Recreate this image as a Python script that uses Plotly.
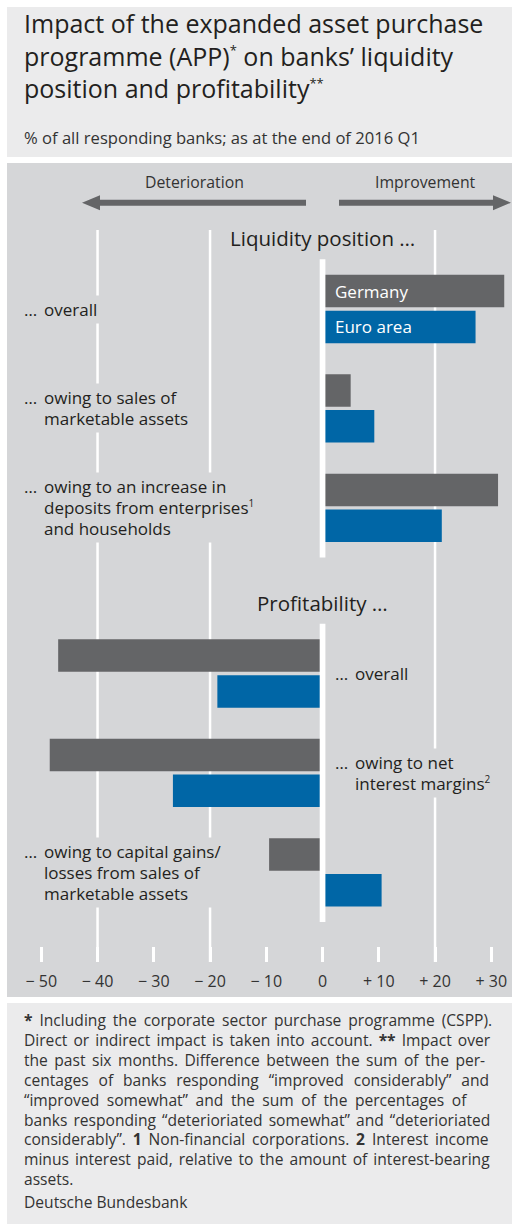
import plotly.graph_objects as go

# ---------------- data ----------------
liquidity_items = [
    ["… overall"],
    ["… owing to sales of", "marketable assets"],
    ["… owing to an increase in", "deposits from enterprises{sup1}", "and households"],
]
profitability_items = [
    ["… overall"],
    ["… owing to net", "interest margins{sup2}"],
    ["… owing to capital gains/", "losses from sales of", "marketable assets"],
]
# which side of the zero line each profitability label sits on
profitability_label_side = ["right", "right", "left"]

liquidity_germany = [32.3, 5.0, 31.2]
liquidity_euro_area = [27.2, 9.2, 21.2]
profitability_germany = [-47.0, -48.5, -9.5]
profitability_euro_area = [-18.7, -26.6, 10.5]

tick_values = [-50, -40, -30, -20, -10, 0, 10, 20, 30]
tick_labels = ["\u2212 50", "\u2212 40", "\u2212 30", "\u2212 20", "\u2212 10",
               "0", "+ 10", "+ 20", "+ 30"]
grid_values = [-40, -20, 20]

STAR = '<sup><span style="font-size:13px">{}</span></sup>'
title_lines = [
    "Impact of the expanded asset purchase",
    "programme (APP)" + STAR.format("*") + " on banks’ liquidity",
    "position and profitability" + STAR.format("**"),
]
subtitle = "% of all responding banks; as at the end of 2016 Q1"
footnote_lines = [
    "<b>*</b> Including the corporate sector purchase programme (CSPP).",
    "Direct or indirect impact is taken into account. <b>**</b> Impact over",
    "the past six months. Difference between the sum of the per-",
    "centages of banks responding “improved considerably” and",
    "“improved somewhat” and the sum of the percentages of",
    "banks responding “deterioriated somewhat” and “deterioriated",
    "considerably”. <b>1</b> Non-financial corporations. <b>2</b> Interest income",
    "minus interest paid, relative to the amount of interest-bearing",
    "assets.",
]
# extra word spacing (px) that spreads each footnote line to the full width
footnote_word_spacing = [2.9, 2.0, 2.4, 5.8, 3.5, 2.0, 2.8, 2.0, 0]
source = "Deutsche Bundesbank"

# ---------------- styling / geometry ----------------
FONT = "Open Sans"
BOX_LIGHT = "#ebebec"
PANEL = "#d5d6d8"
DARK_BAR = "#646567"
BLUE_BAR = "#0066a6"
TEXT = "#231f20"
TEXT_GRAY = "#333333"

LABEL_SIZE = 17
LABEL_LINE_PX = 21
LABEL_PAD = 2
HEAD_SIZE = 20.5
SMALL_SIZE = 15.8
NOTE_SIZE = 15.6
NOTE_LINE_PX = 19.9
LINE_SPACING = 1.3           # plotly's line height, in em of the annotation font

W, H = 512, 1226
PLOT_TOP, PLOT_BOTTOM = 230, 962
FIRST_ROW_PX = 309
ROW_PX = 99.4
SECTION_GAP = 0.667          # extra space (in rows) before the second section
BAR_PX, BAR_GAP_PX = 32.5, 3.3
PX_PER_UNIT = 5.625
X_AT_MINUS50 = 41.3

x_lo = -50 - X_AT_MINUS50 / PX_PER_UNIT
x_hi = x_lo + W / PX_PER_UNIT
y_top = (PLOT_TOP - FIRST_ROW_PX) / ROW_PX
y_bottom = (PLOT_BOTTOM - FIRST_ROW_PX) / ROW_PX

slot = BAR_PX + BAR_GAP_PX
bargap = 1 - 2 * slot / ROW_PX
bargroupgap = BAR_GAP_PX / slot


def px_x(p):
    return p / W


def px_y(p):
    return (PLOT_BOTTOM - p) / (PLOT_BOTTOM - PLOT_TOP)


def x_px(v):
    return (v - x_lo) * PX_PER_UNIT


def sized(text, px, extra=""):
    return f'<span style="font-size:{px}px;{extra}">{text}</span>'


SUPS = {"sup1": "<sup>" + sized("1", 10) + "</sup>",
        "sup2": "<sup>" + sized("2", 10) + "</sup>"}

liq_rows = list(range(len(liquidity_items)))
prof_rows = [len(liquidity_items) + SECTION_GAP + i for i in range(len(profitability_items))]
rows = liq_rows + prof_rows

germany = liquidity_germany + profitability_germany
euro_area = liquidity_euro_area + profitability_euro_area

fig = go.Figure()
fig.add_trace(go.Bar(y=rows, x=germany, orientation="h", name="Germany",
                     marker=dict(color=DARK_BAR, line=dict(width=0)),
                     hoverinfo="x+name", showlegend=False))
fig.add_trace(go.Bar(y=rows, x=euro_area, orientation="h", name="Euro area",
                     marker=dict(color=BLUE_BAR, line=dict(width=0)),
                     hoverinfo="x+name", showlegend=False))

shapes = []
# background boxes
for top, bottom, color in [(7, 157, BOX_LIGHT), (163, 997, PANEL), (1003, 1224, BOX_LIGHT)]:
    shapes.append(dict(type="rect", xref="paper", yref="paper",
                       x0=px_x(7), x1=px_x(W), y0=px_y(bottom), y1=px_y(top),
                       fillcolor=color, line=dict(width=0), layer="below"))
# vertical grid lines
for g in grid_values:
    shapes.append(dict(type="line", xref="x", yref="paper", x0=g, x1=g, y0=0, y1=1,
                       line=dict(color="white", width=2.5), layer="below"))
# zero line, one segment per section
ext = (slot + 14) / ROW_PX
for sec in (liq_rows, prof_rows):
    shapes.append(dict(type="line", xref="x", yref="y", x0=0, x1=0,
                       y0=sec[0] - ext, y1=sec[-1] + ext,
                       line=dict(color="white", width=5.7), layer="above"))


# direction arrows
def arrow_path(tip, base, shaft_end, yc, head_half=7.5, shaft_half=3.0):
    pts = [(tip, yc), (base, yc - head_half), (base, yc - shaft_half),
           (shaft_end, yc - shaft_half), (shaft_end, yc + shaft_half),
           (base, yc + shaft_half), (base, yc + head_half)]
    return "M " + " L ".join(f"{px_x(a):.5f},{px_y(b):.5f}" for a, b in pts) + " Z"


ARROW_Y = 202.7
for tip, base, end in [(82, 100, 306), (511, 493, 339)]:
    shapes.append(dict(type="path", xref="paper", yref="paper",
                       path=arrow_path(tip, base, end, ARROW_Y),
                       fillcolor=DARK_BAR, line=dict(width=0), layer="above"))

annotations = []


def note(text, x, y, xref="paper", yref="paper", size=LABEL_SIZE, color=TEXT,
         xanchor="left", yanchor="middle", yshift=0, bg=None, pad=0):
    a = dict(text=text, x=x, y=y, xref=xref, yref=yref, showarrow=False,
             xanchor=xanchor, yanchor=yanchor, yshift=yshift, align="left",
             font=dict(family=FONT, size=size, color=color), borderpad=pad)
    if bg:
        a["bgcolor"] = bg
    annotations.append(a)


# title block
note("<br>".join(title_lines), px_x(23), px_y(55.6), size=25, color=TEXT)
note(subtitle, px_x(23), px_y(137.5), size=16.6, color=TEXT_GRAY)

# direction captions
note("Deterioration", px_x(194), px_y(182), size=SMALL_SIZE, color=TEXT_GRAY, xanchor="center")
note("Improvement", px_x(425), px_y(182), size=SMALL_SIZE, color=TEXT_GRAY, xanchor="center")

# section headings
HEAD_OFFSET = 0.71
note("Liquidity position …", 0, liq_rows[0] - HEAD_OFFSET, xref="x", yref="y",
     size=HEAD_SIZE, xanchor="center")
note("Profitability …", 0, prof_rows[0] - HEAD_OFFSET, xref="x", yref="y",
     size=HEAD_SIZE, xanchor="center")

# series names inside the first pair of bars
half = (1 - bargap) / 4
note("Germany", px_x(334), liq_rows[0] - half, yref="y", size=17, color="white")
note("Euro area", px_x(334), liq_rows[0] + half, yref="y", size=17, color="white")


# category labels: leading ellipsis hangs to the left of an indented text block
def category_label(lines, row, side):
    x_dots = 23 if side == "left" else x_px(0) + 11
    first = lines[0]
    dots, rest = first[0], first[1:].strip()
    body = [rest] + [ln.format(**SUPS) for ln in lines[1:]]
    n = len(body)
    block = "<br>".join(sized(ln, LABEL_SIZE) for ln in body)
    note(block, px_x(x_dots + 20 - LABEL_PAD), row, yref="y",
         size=LABEL_LINE_PX / LINE_SPACING, bg=PANEL, pad=LABEL_PAD)
    note(sized(dots, LABEL_SIZE), px_x(x_dots), row, yref="y",
         size=LABEL_LINE_PX / LINE_SPACING, yshift=(n - 1) / 2 * LABEL_LINE_PX)


for lines, row in zip(liquidity_items, liq_rows):
    category_label(lines, row, "left")
for lines, row, side in zip(profitability_items, prof_rows, profitability_label_side):
    category_label(lines, row, side)

# footnotes, spread line by line to the full width
note_block = "<br>".join(sized(line, NOTE_SIZE, f"word-spacing:{ws}px")
                         for line, ws in zip(footnote_lines, footnote_word_spacing))
note(note_block, px_x(23), px_y(1099.3), size=NOTE_LINE_PX / LINE_SPACING, color=TEXT_GRAY)
note(source, px_x(23), px_y(1202.2), size=NOTE_SIZE, color=TEXT_GRAY)

fig.update_layout(
    width=W, height=H, autosize=False,
    margin=dict(l=0, r=0, t=PLOT_TOP, b=H - PLOT_BOTTOM, pad=0),
    paper_bgcolor="white", plot_bgcolor="rgba(0,0,0,0)",
    barmode="group", bargap=bargap, bargroupgap=bargroupgap,
    shapes=shapes, annotations=annotations,
    font=dict(family=FONT, color=TEXT),
    xaxis=dict(range=[x_lo, x_hi], tickvals=tick_values, ticktext=tick_labels,
               ticks="inside", ticklen=15, tickwidth=3, tickcolor="white",
               ticklabelstandoff=8,
               showgrid=False, zeroline=False, showline=False,
               tickfont=dict(family=FONT, size=16, color=TEXT_GRAY), fixedrange=True),
    yaxis=dict(range=[y_bottom, y_top], visible=False, showgrid=False,
               zeroline=False, fixedrange=True),
)

fig.write_html("out.html", config={"displayModeBar": False})
